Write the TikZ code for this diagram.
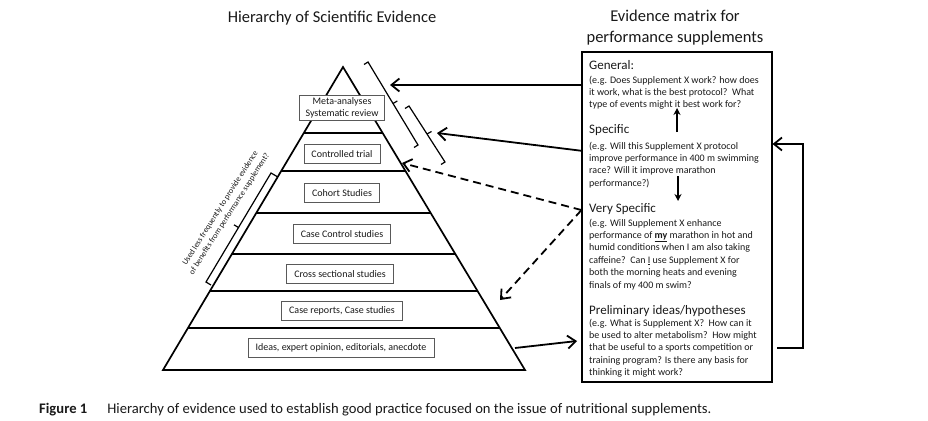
\documentclass[tikz,border=0pt]{standalone}
\usepackage{fontspec}
\setmainfont{Carlito}
\usetikzlibrary{arrows.meta,calc}
\begin{document}
\begin{tikzpicture}[x=1pt,y=-1pt,
  pyr/.style={line width=1.7pt, line join=miter},
  lvl/.style={draw=black!65, line width=0.6pt, fill=white, text=black!90, font=\fontsize{10}{11.5}\selectfont, inner xsep=7.5pt, inner ysep=4pt, minimum height=19pt},
  brk/.style={line width=1.2pt, line join=miter},
  arr/.style={line width=1.8pt, line join=miter, -{Straight Barb[length=8pt,width=13pt,line width=1.8pt]}},
  darr/.style={arr, dash pattern=on 8pt off 5pt},
  inarr/.style={line width=1.6pt, -{Stealth[length=7pt,width=7pt]}},
  hd/.style={anchor=base west, inner sep=0pt, text=black!90, font=\fontsize{13}{15}\selectfont},
  bd/.style={anchor=base west, inner sep=0pt, text=black!90, font=\fontsize{10}{12.4}\selectfont},
  ttl/.style={inner sep=0pt, text=black!90, font=\fontsize{16.5}{20}\selectfont, align=center},
]
\useasboundingbox (0,0) rectangle (928,420);

% titles
\node[ttl, anchor=base] (t1) at (332,23) {Hierarchy of Scientific Evidence};
\node[ttl, anchor=base] (t2a) at (675,22) {Evidence matrix for};
\node[ttl, anchor=base] (t2b) at (675,42) {performance supplements};

% pyramid
\coordinate (A) at (343,67);
\coordinate (BL) at (163,370);
\coordinate (BR) at (525,370);
\draw[pyr] (A) -- (BL) -- (BR) -- cycle;
\foreach \t in {0.2178,0.3432,0.4818,0.6172,0.7393,0.8614}{
  \draw[pyr] ($(A)!\t!(BL)$) -- ($(A)!\t!(BR)$);
}

% level boxes
\node[lvl, align=center, inner ysep=2.5pt, inner xsep=6pt] (l1) at (342,108) {Meta-analyses\\Systematic review};
\node[lvl] (l2) at (342,154) {Controlled trial};
\node[lvl] (l3) at (342,193) {Cohort Studies};
\node[lvl] (l4) at (342,234) {Case Control studies};
\node[lvl] (l5) at (340,274) {Cross sectional studies};
\node[lvl] (l6) at (342,311) {Case reports, Case studies};
\node[lvl] (l7) at (341,348) {Ideas, expert opinion, editorials, anecdote};

% brackets
\draw[brk] (364,64.5) -- (368,62) -- (418,145) -- (414,147.5);
\coordinate (b1m) at (393,103.5);
\draw[brk] (b1m) -- ++(4.3,-2.5);
\draw[brk] (405,108.5) -- (409,106) -- (445,162) -- (441,164.5);
\coordinate (b2m) at (427,134);
\draw[brk] (b2m) -- ++(4.5,-2.5);
\draw[brk] (277,176.5) -- (271,173) -- (206,282) -- (211,285);
\coordinate (b3m) at (238.5,227.5);
\draw[brk] (b3m) -- ++(-4.5,-2.7);

\node[inner sep=0pt, rotate=57.5, align=center, text=black!90, font=\fontsize{8.1}{10.8}\selectfont] (note) at (225,211)
  {Used less frequently to provide evidence\\of benefits from performance supplement?};

% evidence matrix box
\node[draw, line width=1.1pt, minimum width=190pt, minimum height=330pt, inner sep=0pt] (mx) at (677,217) {};

\node[hd] (genH) at (589,70) {General:};
\node[bd] (genB) at (589,83) {\parbox[t]{182pt}{\raggedright
(e.g. Does Supplement X work? how does\\
it work, what is the best protocol?\ \ What\\
type of events might it best work for?}};

\node[hd] (specH) at (589,133) {Specific};
\node[bd] (specB) at (589,149) {\parbox[t]{182pt}{\raggedright
(e.g. Will this Supplement X protocol\\
improve performance in 400 m swimming\\
race? Will it improve marathon\\
performance?)}};

\node[hd] (vsH) at (589,212) {Very Specific};
\node[bd] (vsB) at (589,226) {\parbox[t]{182pt}{\raggedright
(e.g. Will Supplement X enhance\\
performance of \underline{\textbf{my}} marathon in hot and\\
humid conditions when I am also taking\\
caffeine?\ \ Can \underline{I} use Supplement X for\\
both the morning heats and evening\\
finals of my 400 m swim?}};

\node[hd] (preH) at (589,314) {Preliminary ideas/hypotheses};
\node[bd] (preB) at (589,326) {\parbox[t]{182pt}{\raggedright
(e.g. What is Supplement X?\ \ How can it\\
be used to alter metabolism?\ \ How might\\
that be useful to a sports competition or\\
training program? Is there any basis for\\
thinking it might work?}};

% arrows inside the box
\coordinate (u1) at (677,132);
\coordinate (u2) at (677,108);
\draw[inarr] (u1) -- (u2);
\coordinate (d1) at (678,176);
\coordinate (d2) at (678,201);
\draw[inarr] (d1) -- (d2);

% connectors to the pyramid
\coordinate (tip1) at (390,85);
\draw[arr] (mx.west |- tip1) -- (tip1);
\coordinate (tip2) at (437,133);
\draw[arr] ($(mx.north west)!0.30!(mx.south west)$) -- (tip2);
\coordinate (dst) at ($(mx.north west)!0.479!(mx.south west)$);
\coordinate (tip3) at (402,163);
\coordinate (tip4) at (500,300);
\draw[darr] (dst) -- (tip3);
\draw[darr] (dst) -- (tip4);
\coordinate (s5) at (515,348);
\coordinate (tip5) at (577,341);
\draw[arr] (s5) -- (tip5);

% feedback connector on the right
\coordinate (r1) at (777,348);
\coordinate (r2) at (803,144);
\draw[arr] (r1) -| (r2) -- (mx.east |- r2);

% caption
\node[anchor=base west, inner sep=0pt, text=black!90, font=\fontsize{14.6}{16}\selectfont] (cap) at (39,413)
  {\textbf{Figure 1}\hspace{20pt}Hierarchy of evidence used to establish good practice focused on the issue of nutritional supplements.};
\end{tikzpicture}
\end{document}
